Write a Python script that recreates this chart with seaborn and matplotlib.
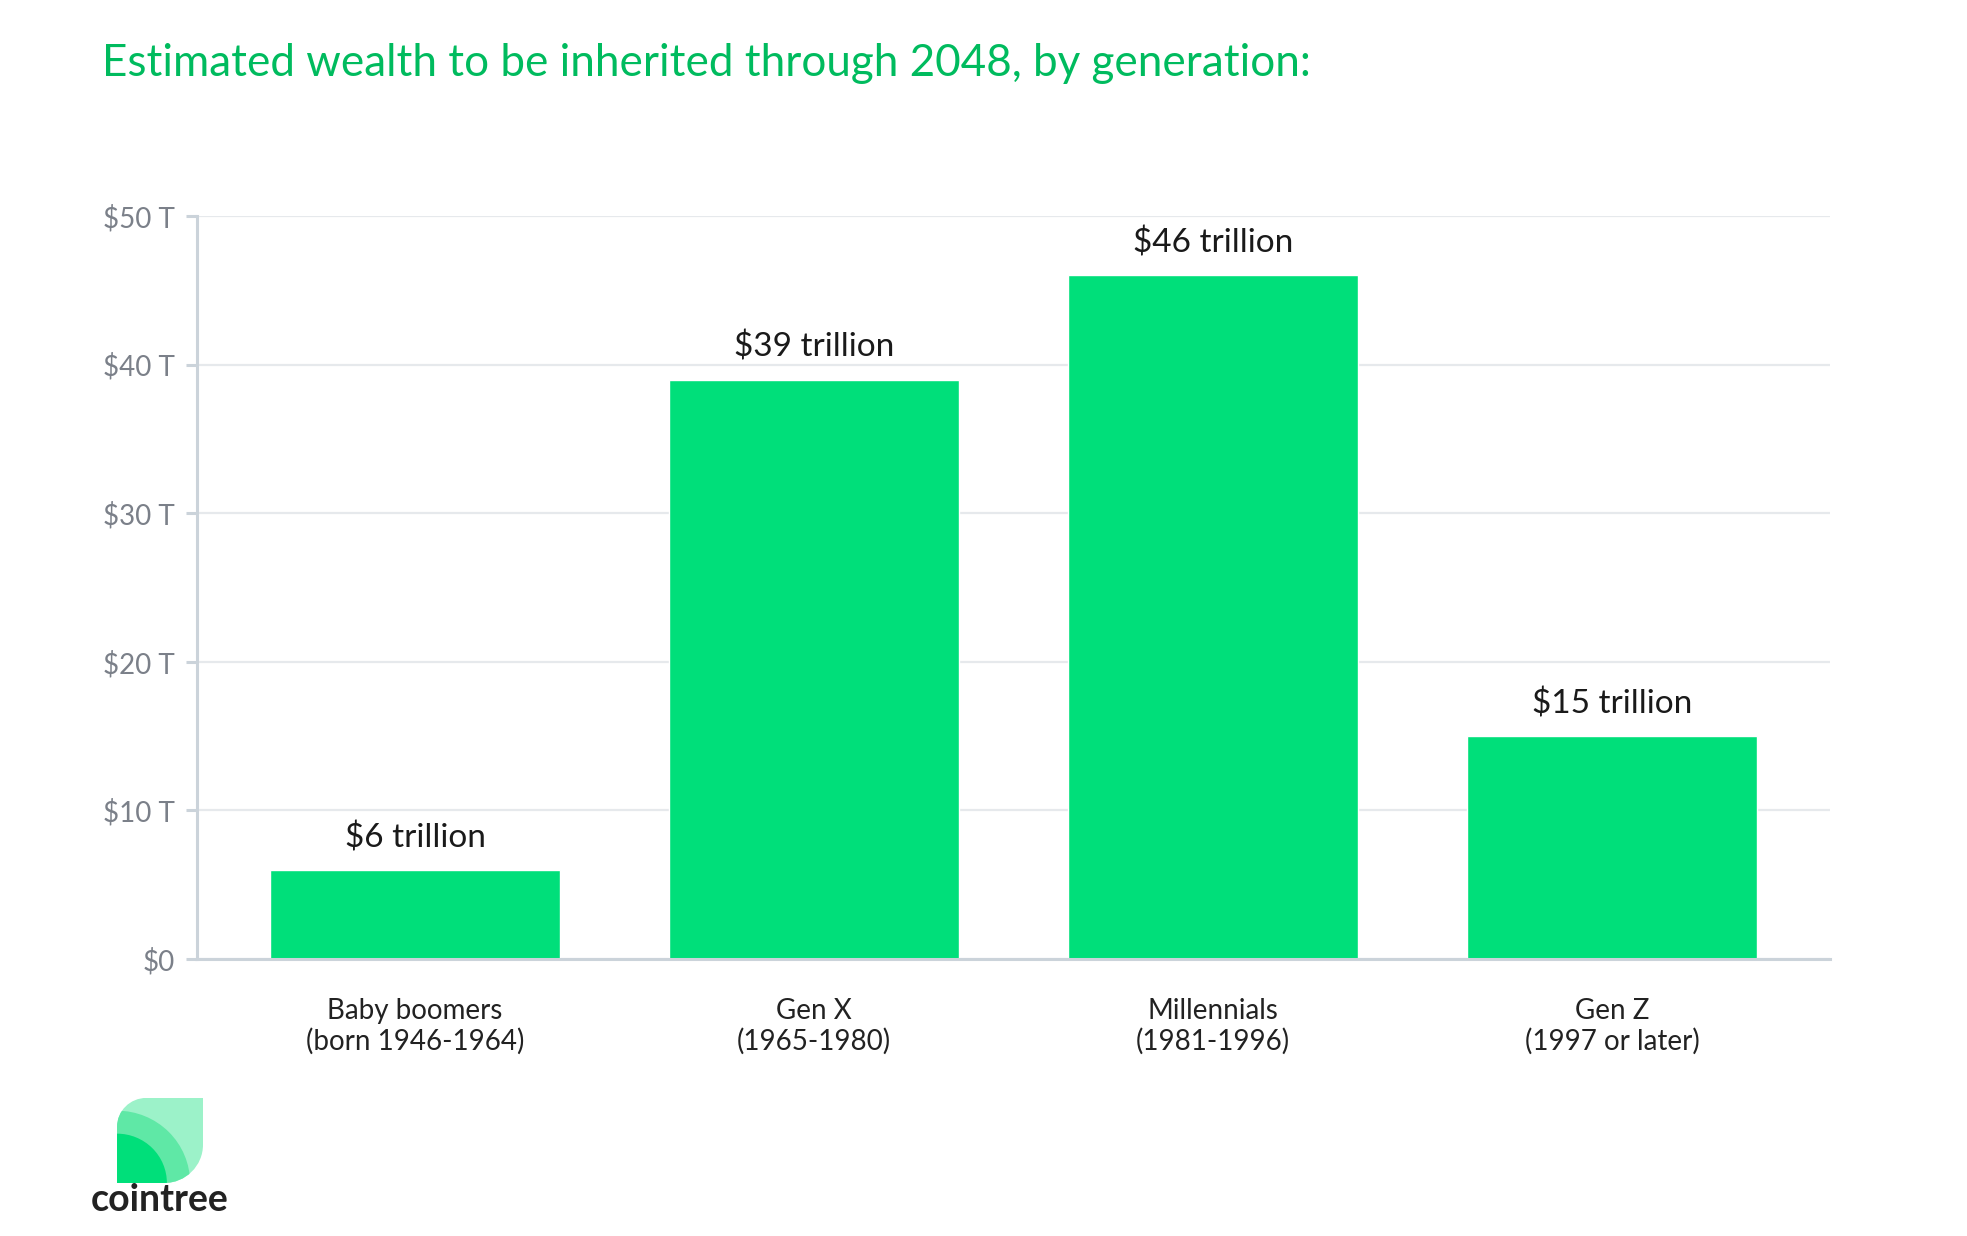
import numpy as np
import pandas as pd
import seaborn as sns
import matplotlib.pyplot as plt
import matplotlib.patches as mpatches
from matplotlib.path import Path

# data
generations = ['Baby boomers\n(born 1946-1964)', 'Gen X\n(1965-1980)',
               'Millennials\n(1981-1996)', 'Gen Z\n(1997 or later)']
wealth = [6, 39, 46, 15]  # trillions of dollars
bar_labels = ['$6 trillion', '$39 trillion', '$46 trillion', '$15 trillion']
yticks = [0, 10, 20, 30, 40, 50]
ytick_labels = ['$0', '$10 T', '$20 T', '$30 T', '$40 T', '$50 T']

df = pd.DataFrame({'generation': generations, 'wealth': wealth})

sns.set_theme(style='white')
plt.rcParams['font.family'] = ['Lato', 'DejaVu Sans']

bar_green = '#00df7a'
title_green = '#00bb5e'
grid_col = '#e6e9ec'
spine_col = '#cbd3da'
tick_col = '#7b8089'

fig = plt.figure(figsize=(19.67, 12.36), dpi=100)
ax = fig.add_axes([0.1002, 0.2241, 0.8302, 0.6011])

sns.barplot(data=df, x='generation', y='wealth', color=bar_green,
            saturation=1, width=0.727, ax=ax, zorder=3)

ax.set_ylim(0, 50)
ax.set_xlim(-0.546, 3.546)
ax.set_yticks(yticks)
ax.set_yticklabels([t.replace('$', r'\$') for t in ytick_labels])
ax.set_xlabel('')
ax.set_ylabel('')

# grid + spines
ax.yaxis.grid(True, color=grid_col, linewidth=1.6, zorder=0)
ax.set_axisbelow(True)
for s in ['top', 'right']:
    ax.spines[s].set_visible(False)
for s in ['left', 'bottom']:
    ax.spines[s].set_color(spine_col)
    ax.spines[s].set_linewidth(2.2)
    ax.spines[s].set_zorder(4)

ax.tick_params(axis='y', which='major', left=True, length=8, width=2.2,
               color=spine_col, pad=8, labelsize=20, labelcolor=tick_col)
ax.tick_params(axis='x', which='major', bottom=False, length=0, pad=28,
               labelsize=20, labelcolor='#222222')
for lab in ax.get_xticklabels():
    lab.set_linespacing(1.18)

# value labels above bars
ax.bar_label(ax.containers[0], labels=[b.replace('$', r'\$') for b in bar_labels],
             padding=12, fontsize=24, color='#1a1a1a')

# title
fig.text(0.052, 0.949, 'Estimated wealth to be inherited through 2048, by generation:',
         fontsize=31.7, color=title_green, va='center', ha='left')

# cointree logo
lax = fig.add_axes([0.0595, 0.0429, 0.0437, 0.0688])
lax.set_xlim(0, 1)
lax.set_ylim(0, 1)
lax.axis('off')
k = 0.5523
r1, r2 = 0.34, 0.45
verts = [(0, 0), (0, 1 - r1),
         (0, 1 - r1 + k * r1), (r1 - k * r1, 1), (r1, 1),
         (1, 1), (1, r2),
         (1, r2 - k * r2), (1 - r2 + k * r2, 0), (1 - r2, 0),
         (0, 0)]
codes = [Path.MOVETO, Path.LINETO,
         Path.CURVE4, Path.CURVE4, Path.CURVE4,
         Path.LINETO, Path.LINETO,
         Path.CURVE4, Path.CURVE4, Path.CURVE4,
         Path.CLOSEPOLY]
leaf = mpatches.PathPatch(Path(verts, codes), facecolor='#9cf2c9', edgecolor='none')
lax.add_patch(leaf)
mid = mpatches.Circle((0, 0), 0.85, facecolor='#5fe8a6', edgecolor='none')
lax.add_patch(mid)
mid.set_clip_path(leaf)
dark = mpatches.Circle((0, 0), 0.58, facecolor=bar_green, edgecolor='none')
lax.add_patch(dark)
dark.set_clip_path(leaf)

fig.text(0.0813, 0.029, 'cointree', fontsize=27, fontweight='bold',
         color='#222222', ha='center', va='center')

fig.savefig('out.png', dpi=100, facecolor='white')
